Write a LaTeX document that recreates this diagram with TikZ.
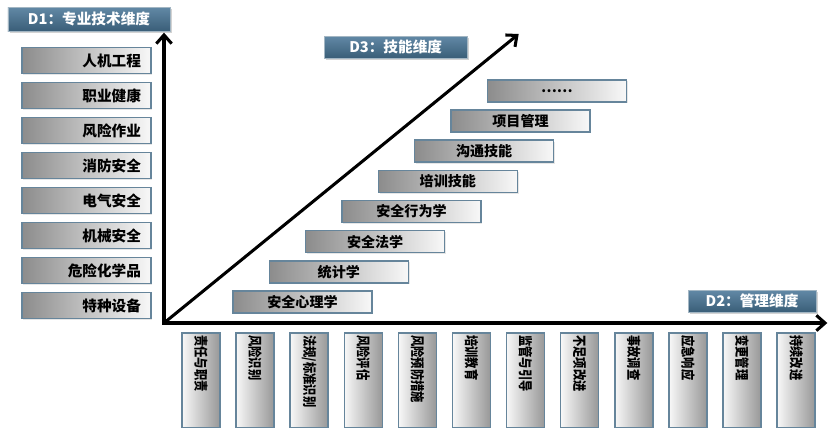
\documentclass[tikz,border=0pt]{standalone}
\usepackage{fontspec}
\setmainfont{Noto Sans CJK SC}
\newfontfamily\narrowcjk[FakeStretch=0.8]{Noto Sans CJK SC}
\usetikzlibrary{positioning,shadows,arrows.meta}
\definecolor{edgeblue}{HTML}{66859B}
\definecolor{tagtop}{HTML}{6289A6}
\definecolor{tagbot}{HTML}{3A5E78}
\definecolor{boxgray}{HTML}{8C8C8C}
\definecolor{boxwhite}{HTML}{F8F8F8}

\begin{document}
\begin{tikzpicture}[
    tag/.style={draw=edgeblue!60, line width=0.6pt, top color=tagtop, bottom color=tagbot,
        text=white, font=\bfseries\fontsize{12.5}{14}\selectfont, outer sep=0pt,
        drop shadow={opacity=0.35, shadow xshift=0.05cm, shadow yshift=-0.05cm}},
    hbox/.style={draw=edgeblue, line width=1.2pt, left color=boxgray, right color=boxwhite,
        outer sep=0pt, drop shadow={opacity=0.2, shadow xshift=0.04cm, shadow yshift=-0.04cm}},
    tech/.style={hbox, minimum height=0.78cm, text width=3.27cm, align=right, inner xsep=0.3cm,
        font=\bfseries\fontsize{12.5}{14}\selectfont},
    skill/.style={hbox, minimum width=4.17cm, minimum height=0.66cm,
        font=\bfseries\fontsize{12}{14}\selectfont},
    mgmt/.style={draw=edgeblue, line width=1.2pt, left color=boxwhite, right color=boxgray!90,
        rotate=-90, anchor=west, minimum width=2.85cm, minimum height=1.14cm,
        text width=2.7cm, align=left, inner xsep=0.07cm, outer sep=0pt,
        font=\narrowcjk\bfseries\fontsize{12}{14}\selectfont},
    axis/.style={line width=2.6pt, line join=miter}
]
\useasboundingbox (0,0) rectangle (24.84,-12.84);
\clip (0,0) rectangle (24.84,-12.84);

% axes
\coordinate (origin) at (4.92,-9.69);
\coordinate (ytip) at (4.92,-0.98);
\coordinate (xtip) at (24.82,-9.69);
\coordinate (ztip) at (15.56,-1.02);
\draw [axis, {Straight Barb[length=2.6mm, width=4.6mm]}-{Straight Barb[length=2.6mm, width=4.6mm]}]
    (ytip) -- (origin) -- (xtip);
\draw [axis, -{Straight Barb[length=2.6mm, width=4.6mm]}] (origin) -- (ztip);

% dimension labels
\node [tag, minimum width=4.86cm, minimum height=0.72cm] (d1) at (2.67,-0.57) {D1：专业技术维度};
\node [tag, minimum width=4.29cm, minimum height=0.63cm] (d3) at (11.87,-1.41) {D3：技能维度};
\node [tag, minimum width=3.84cm, minimum height=0.66cm] (d2) at (22.56,-9.03) {D2：管理维度};

% D1 boxes
\node [tech] (tech1) at (2.595,-1.815) {人机工程};
\node [tech, below=0.27cm of tech1] (tech2) {职业健康};
\node [tech, below=0.27cm of tech2] (tech3) {风险作业};
\node [tech, below=0.27cm of tech3] (tech4) {消防安全};
\node [tech, below=0.27cm of tech4] (tech5) {电气安全};
\node [tech, below=0.27cm of tech5] (tech6) {机械安全};
\node [tech, below=0.27cm of tech6] (tech7) {危险化学品};
\node [tech, below=0.27cm of tech7] (tech8) {特种设备};

% D3 stairs
\node [skill] (skill1) at (9.075,-9.06) {安全心理学};
\node [skill, above=0.245cm of skill1, xshift=1.09cm] (skill2) {统计学};
\node [skill, above=0.245cm of skill2, xshift=1.09cm] (skill3) {安全法学};
\node [skill, above=0.245cm of skill3, xshift=1.09cm] (skill4) {安全行为学};
\node [skill, above=0.245cm of skill4, xshift=1.09cm] (skill5) {培训技能};
\node [skill, above=0.245cm of skill5, xshift=1.09cm] (skill6) {沟通技能};
\node [skill, above=0.245cm of skill6, xshift=1.09cm] (skill7) {项目管理};
\node [skill, above=0.245cm of skill7, xshift=1.09cm] (skill8) {……};

% D2 boxes
\node [mgmt] (mgmt1) at (6.03,-9.99) {责任与职责};
\node [mgmt] (mgmt2) at (7.653,-9.99) {风险识别};
\node [mgmt] (mgmt3) at (9.276,-9.99) {法规/标准识别};
\node [mgmt] (mgmt4) at (10.899,-9.99) {风险评估};
\node [mgmt] (mgmt5) at (12.522,-9.99) {风险预防措施};
\node [mgmt] (mgmt6) at (14.145,-9.99) {培训教育};
\node [mgmt] (mgmt7) at (15.768,-9.99) {监管与引导};
\node [mgmt] (mgmt8) at (17.391,-9.99) {不足项改进};
\node [mgmt] (mgmt9) at (19.014,-9.99) {事故调查};
\node [mgmt] (mgmt10) at (20.637,-9.99) {应急响应};
\node [mgmt] (mgmt11) at (22.26,-9.99) {变更管理};
\node [mgmt] (mgmt12) at (23.883,-9.99) {持续改进};
\end{tikzpicture}
\end{document}
